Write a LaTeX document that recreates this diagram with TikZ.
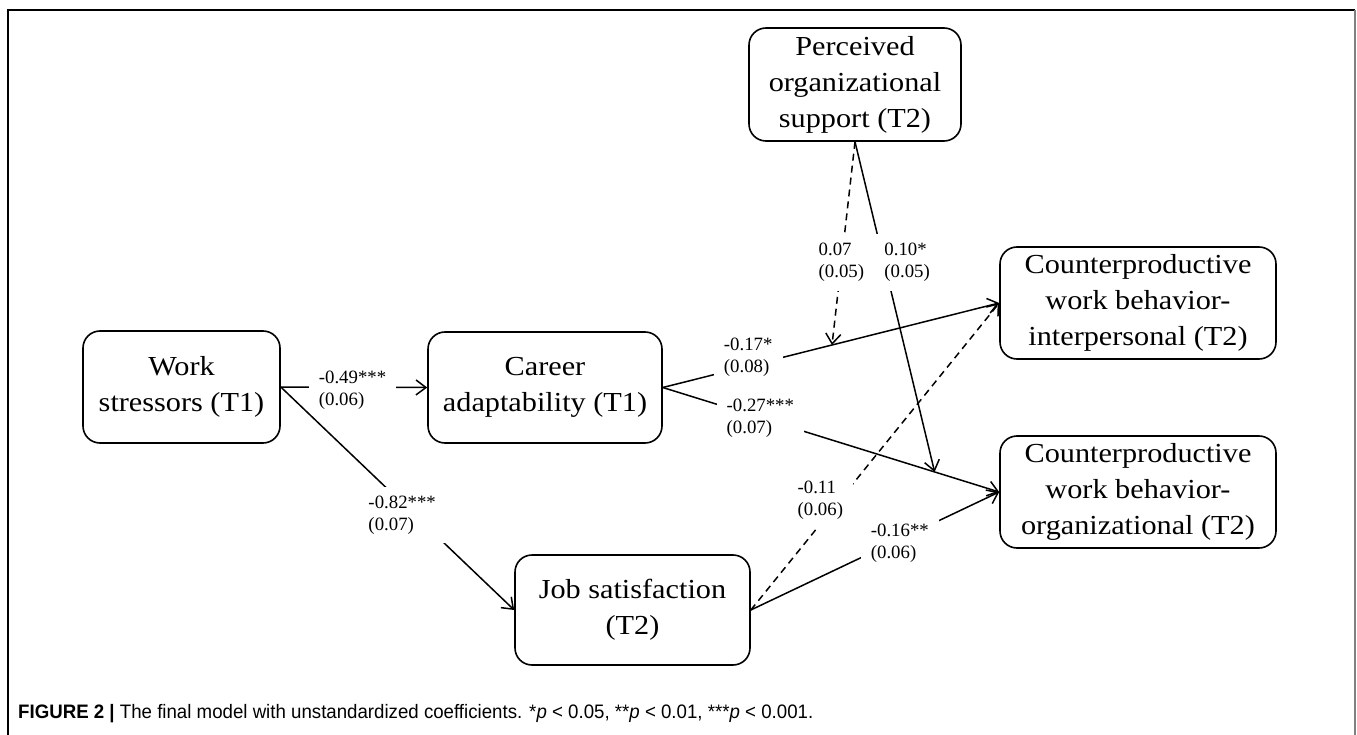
\documentclass[tikz,border=0pt]{standalone}
\usepackage{fontspec}
\usepackage{graphicx}
\setmainfont{Liberation Serif}
\newfontfamily\boxfont[FakeStretch=1.1]{Liberation Serif}
\newfontfamily\capfont{Liberation Sans}
\usetikzlibrary{arrows.meta,calc}
\begin{document}
\begin{tikzpicture}[x=1pt,y=-1pt,
  box/.style={draw, line width=1.6pt, rounded corners=17pt, align=center,
    font=\boxfont\fontsize{27.5}{36}\selectfont, inner sep=0pt},
  lab/.style={fill=white, align=left, font=\fontsize{18.8}{22}\selectfont,
    inner xsep=10pt, inner ysep=9pt},
  conn/.style={line width=1.5pt},
  arr/.style={conn, -{Straight Barb[length=10pt,width=15pt,line width=1.5pt]}},
  dashline/.style={dash pattern=on 7pt off 5pt},
  frameline/.style={line width=1.5pt}
]
\useasboundingbox (0,0) rectangle (1357,735);
% frame
\draw[frameline] (8,735) -- (8,10) -- (1355,10);
\draw[frameline, gray] (1355,10) -- (1355,735);

% boxes
\node[box, minimum width=197pt, minimum height=112pt] (ws) at (181.5,387) {Work\\stressors (T1)};
\node[box, minimum width=234pt, minimum height=111pt] (ca) at (545,387.5) {Career\\adaptability (T1)};
\node[box, minimum width=235pt, minimum height=110pt] (js) at (632.5,610) {Job satisfaction\\(T2)};
\node[box, minimum width=212pt, minimum height=113pt] (pos) at (855,84.5) {Perceived\\organizational\\support (T2)};
\node[box, minimum width=276pt, minimum height=112pt] (cwbi) at (1138,303) {Counterproductive\\work behavior-\\interpersonal (T2)};
\node[box, minimum width=276pt, minimum height=112pt] (cwbo) at (1138,492) {Counterproductive\\work behavior-\\organizational (T2)};

% points on paths hit by moderation arrows
\coordinate (m1) at ($(ca.east)!0.503!(cwbi.west)$);
\coordinate (m2) at ($(ca.east)!0.808!(cwbo.west)$);

% connectors
\draw[arr] (ws.east) -- node[lab, pos=0.49, yshift=-3pt] {-0.49***\\(0.06)} (ca.west);
\draw[arr] (ws.east) -- node[lab, pos=0.52, yshift=-12pt] {-0.82***\\(0.07)} (js.west);
\draw[arr] (ca.east) -- node[lab, pos=0.254, yshift=9pt] {-0.17*\\(0.08)} (cwbi.west);
\draw[arr] (ca.east) -- node[lab, pos=0.29] {-0.27***\\(0.07)} (cwbo.west);
\draw[arr] (js.east) -- node[lab, pos=0.6, yshift=-4pt] {-0.16**\\(0.06)} (cwbo.west);
\draw[arr, dashline] (js.east) -- node[lab, pos=0.3, xshift=-5pt, yshift=18pt] {-0.11\\(0.06)} (cwbi.west);
\draw[arr, dashline] (pos.south) -- node[lab, pos=0.593] {0.07\\(0.05)} (m1);
\draw[arr] (pos.south) -- node[lab, pos=0.366, xshift=23pt] {0.10*\\(0.05)} (m2);

% caption
\node[anchor=base west, inner sep=0pt] (cap) at (18,718)
  {\resizebox{795pt}{\height}{\capfont\fontsize{19.5}{22}\selectfont\textbf{FIGURE 2 |} The final model with unstandardized coefficients. *\textit{p} < 0.05, **\textit{p} < 0.01, ***\textit{p} < 0.001.}};
\end{tikzpicture}
\end{document}
